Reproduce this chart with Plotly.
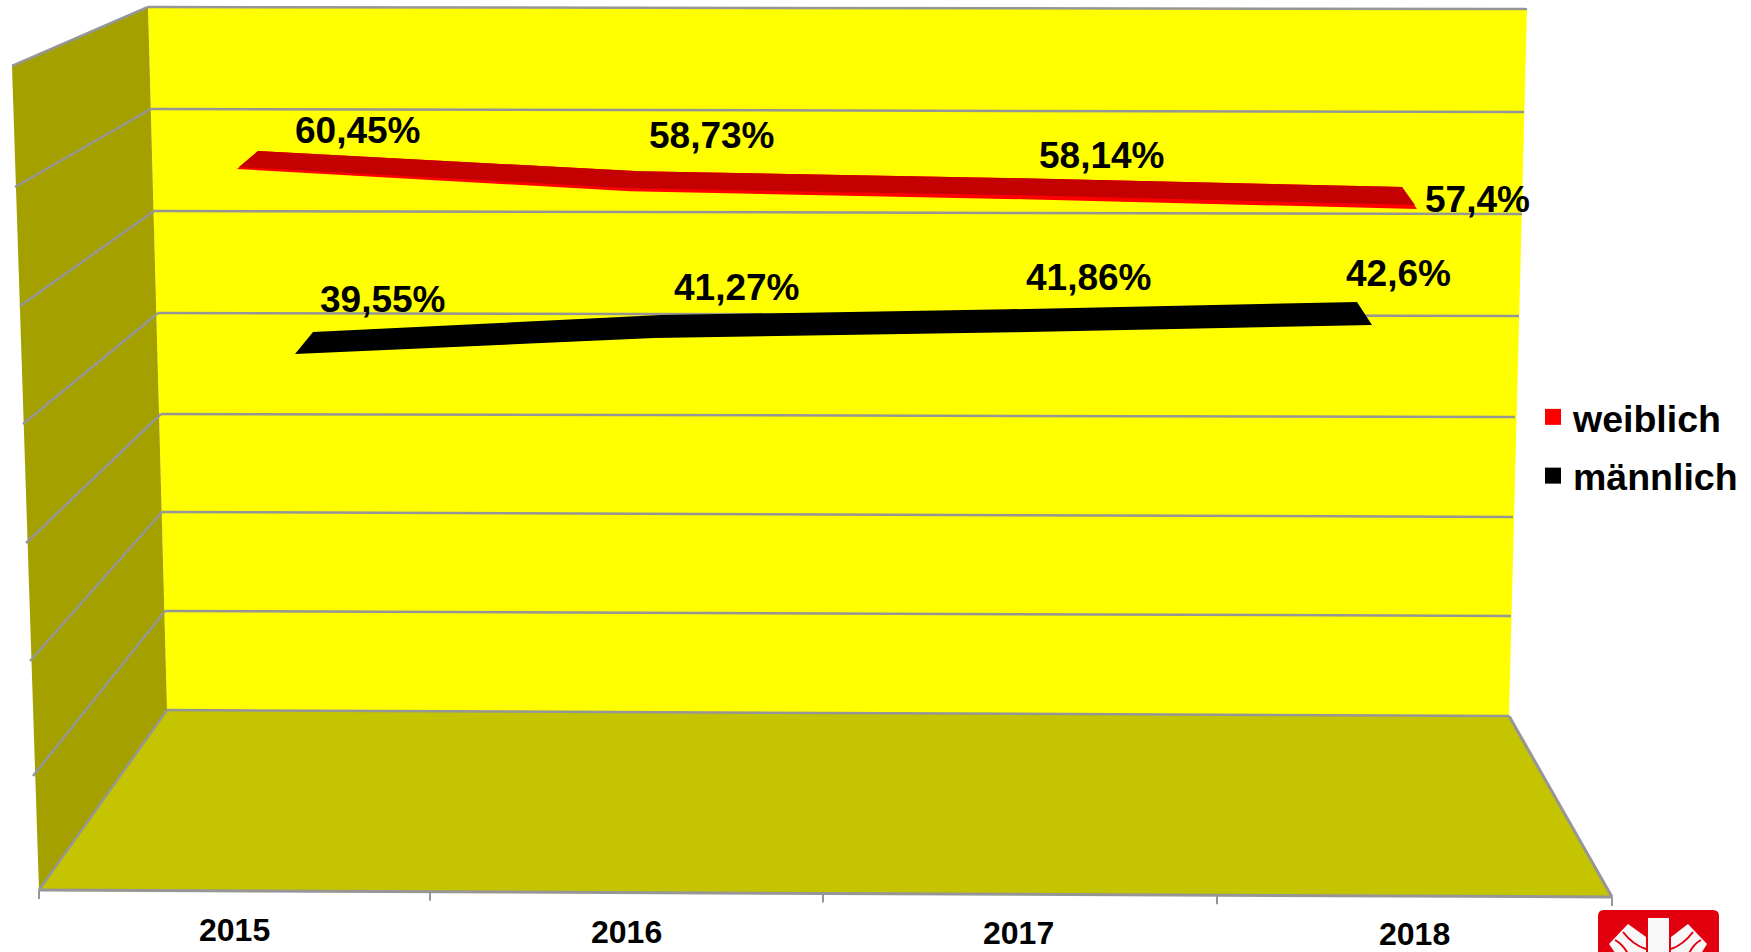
import plotly.graph_objects as go

years = [2015, 2016, 2017, 2018]
weiblich = [60.45, 58.73, 58.14, 57.4]
maennlich = [39.55, 41.27, 41.86, 42.6]
series_names = ["weiblich", "männlich"]

W, H = 1751, 952
FONT = "Liberation Sans, Arial, sans-serif"
GRID = "#969696"

# ---------- pseudo-3D box (page pixels on the hidden base axes) ----------
back_left = [(148, 7), (151, 109), (154, 211), (158, 313), (161, 414), (162, 512), (165, 611), (167, 710)]
back_right = [(1527, 9), (1524, 112), (1522, 214), (1519, 316), (1515, 417), (1513, 517), (1511, 616), (1509, 716)]
front_left = [(12, 66), (15, 187), (20, 306), (23, 424), (26, 543), (30, 661), (33, 776), (39, 890)]
floor_front_right = (1612, 897)


def poly(pts, fill):
    d = "M " + " L ".join(f"{x},{y}" for x, y in pts) + " Z"
    return dict(type="path", path=d, xref="x", yref="y", fillcolor=fill, line=dict(width=0), layer="below")


def seg(a, b, width=2.5, color=GRID):
    return dict(type="line", xref="x", yref="y", x0=a[0], y0=a[1], x1=b[0], y1=b[1],
                line=dict(color=color, width=width), layer="below")


shapes = [
    poly([back_left[0], back_right[0], back_right[-1], back_left[-1]], "#FFFF00"),
    poly([front_left[0], back_left[0], back_left[-1], front_left[-1]], "#A3A000"),
    poly([back_left[-1], back_right[-1], floor_front_right, front_left[-1]], "#C4C400"),
]
for a, b in zip(back_left, back_right):
    shapes.append(seg(a, b))
for a, b in zip(front_left[:-1], back_left[:-1]):
    shapes.append(seg(a, b))
shapes += [
    seg(front_left[-1], back_left[-1]),
    seg(floor_front_right, back_right[-1], 3),
    seg(front_left[-1], floor_front_right, 3),
]
tick_xs = [39, 430, 823, 1217, 1612]
for i, tx in enumerate(tick_xs):
    y0 = 890 + (tx - 39) / (1612 - 39) * 7
    shapes.append(seg((tx, y0), (tx, y0 + 9), 2))

# Caritas logo, cut off by the page edge
LOGO_RED = "#E2000F"
LOGO_WHITE = "#F8F8F8"
shapes.append(dict(type="path", xref="x", yref="y", layer="above", fillcolor=LOGO_RED, line=dict(width=0),
                   path="M 1598,960 L 1598,916 Q 1598,910 1604,910 L 1713,910 Q 1719,910 1719,916 L 1719,960 Z"))
for pts in (
    [(1648, 960), (1648, 918), (1669, 918), (1669, 960)],
    [(1609, 944), (1628, 924), (1646, 937), (1646, 960), (1620, 960)],
    [(1671, 937), (1688, 924), (1707, 944), (1697, 960), (1671, 960)],
):
    d = "M " + " L ".join(f"{x},{y}" for x, y in pts) + " Z"
    shapes.append(dict(type="path", path=d, xref="x", yref="y", fillcolor=LOGO_WHITE, line=dict(width=0), layer="above"))
for d in ("M 1623,932 Q 1633,945 1646,949", "M 1615,940 Q 1624,945 1629,956",
          "M 1693,932 Q 1683,945 1671,949", "M 1701,940 Q 1692,945 1688,956"):
    shapes.append(dict(type="path", path=d, xref="x", yref="y", line=dict(color=LOGO_RED, width=2), layer="above"))


# ---------- scales: each ribbon sits at its own depth, so it has its own axes ----------
def linear_range(p0, v0, p1, v1, pmin, pmax):
    k = (v1 - v0) / (p1 - p0)
    return [v0 + (pmin - p0) * k, v0 + (pmax - p0) * k], abs(1 / k)


x_red, xs_red = linear_range(258, years[0], 1402, years[-1], 0, W)
y_red, ys_red = linear_range(151, weiblich[0], 187, weiblich[-1], H, 0)
x_blk, xs_blk = linear_range(313, years[0], 1357, years[-1], 0, W)
y_blk, ys_blk = linear_range(332, maennlich[0], 302, maennlich[-1], H, 0)


def ribbon(vals, xscale, yscale, thick, left_slant, right_slant):
    xb, yb = [], []
    n = len(vals)
    for i, (yr, v) in enumerate(zip(years, vals)):
        slant = left_slant + (right_slant - left_slant) * i / (n - 1)
        xb.append(yr + slant / xscale)
        yb.append(v - thick[i] / yscale)
    return years + xb[::-1] + [years[0]], list(vals) + yb[::-1] + [vals[0]]


red_full = ribbon(weiblich, xs_red, ys_red, [18, 20, 21, 22], -21, 15)
red_dark = ribbon(weiblich, xs_red, ys_red, [16, 17, 17, 18], -19, 13)
blk_full = ribbon(maennlich, xs_blk, ys_blk, [22, 23, 23, 23], -18, 15)

fig = go.Figure()
common = dict(mode="lines", fill="toself", line=dict(width=0), hoverinfo="skip", showlegend=False)
fig.add_trace(go.Scatter(x=red_full[0], y=red_full[1], fillcolor="#FF0000", xaxis="x2", yaxis="y2", **common))
fig.add_trace(go.Scatter(x=red_dark[0], y=red_dark[1], fillcolor="#C40000", xaxis="x2", yaxis="y2", **common))
fig.add_trace(go.Scatter(x=blk_full[0], y=blk_full[1], fillcolor="#000000", xaxis="x3", yaxis="y3", **common))
# legend entries
for name, col, ax in ((series_names[0], "#FF0000", "2"), (series_names[1], "#000000", "3")):
    fig.add_trace(go.Scatter(x=[None], y=[None], mode="markers", name=name, legendgroup=name,
                             marker=dict(symbol="square", size=21, color=col), xaxis="x" + ax, yaxis="y" + ax))


def label(v):
    return f"{v:g}".replace(".", ",") + "%"


annotations = []
label_shift_red = [(100, 21), (73, 36), (81, 23), (75, -12)]
label_shift_blk = [(70, 33), (76, 28), (80, 32), (41, 29)]
for yr, v, (dx, dy) in zip(years, weiblich, label_shift_red):
    annotations.append(dict(x=yr, y=v, xref="x2", yref="y2", xshift=dx, yshift=dy, text=f"<b>{label(v)}</b>",
                            showarrow=False, font=dict(family=FONT, size=37, color="#000000")))
for yr, v, (dx, dy) in zip(years, maennlich, label_shift_blk):
    annotations.append(dict(x=yr, y=v, xref="x3", yref="y3", xshift=dx, yshift=dy, text=f"<b>{label(v)}</b>",
                            showarrow=False, font=dict(family=FONT, size=37, color="#000000")))
year_px = [(234, 930), (626, 932), (1018, 933), (1414, 934)]
for yr, (px, py) in zip(years, year_px):
    annotations.append(dict(x=px, y=py, xref="x", yref="y", text=f"<b>{yr}</b>", showarrow=False,
                            font=dict(family=FONT, size=32, color="#000000")))

hidden = dict(visible=False, fixedrange=True)
fig.update_layout(
    width=W, height=H, autosize=False,
    margin=dict(l=0, r=0, t=0, b=0, pad=0),
    paper_bgcolor="#FFFFFF", plot_bgcolor="rgba(0,0,0,0)",
    xaxis=dict(range=[0, W], domain=[0, 1], **hidden),
    yaxis=dict(range=[H, 0], domain=[0, 1], **hidden),
    xaxis2=dict(range=x_red, overlaying="x", anchor="y2", **hidden),
    yaxis2=dict(range=y_red, overlaying="y", anchor="x2", **hidden),
    xaxis3=dict(range=x_blk, overlaying="x", anchor="y3", **hidden),
    yaxis3=dict(range=y_blk, overlaying="y", anchor="x3", **hidden),
    shapes=shapes, annotations=annotations,
    legend=dict(x=1533 / W, y=1 - 386 / H, xanchor="left", yanchor="top", bgcolor="rgba(0,0,0,0)",
                tracegroupgap=7, itemclick=False, itemdoubleclick=False,
                font=dict(family=FONT, size=37.5, color="#000000", weight="bold")),
    showlegend=True,
)
fig.write_html("out.html", config=dict(displayModeBar=False),
               post_script="document.body.style.margin='0';document.body.style.overflow='hidden';")
